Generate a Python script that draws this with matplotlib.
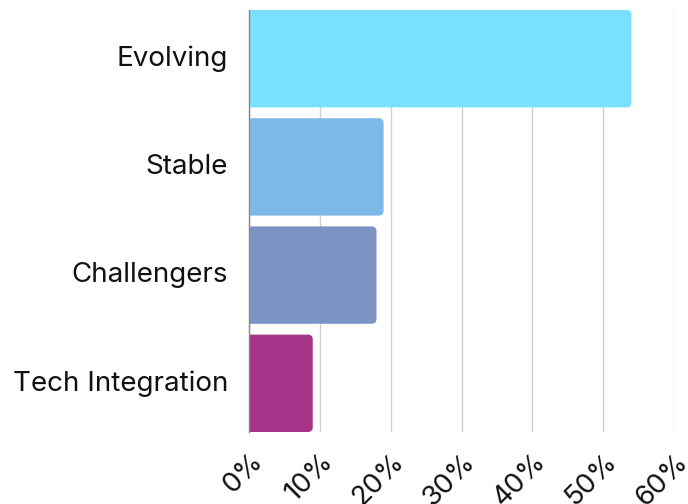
import matplotlib
matplotlib.use("Agg")
import matplotlib.pyplot as plt
from matplotlib.patches import FancyBboxPatch
from matplotlib.ticker import FuncFormatter
from matplotlib.transforms import ScaledTranslation

# segment shares (%)
segments = ["Evolving", "Stable", "Challengers", "Tech Integration"]
shares = [54, 19, 18, 9]
colors = ["#7AE0FF", "#7DB9E8", "#7B94C4", "#A63488"]

plt.rcParams['font.family'] = ['Inter', 'DejaVu Sans']

W, H = 688, 504
fig = plt.figure(figsize=(W / 100, H / 100), dpi=100)
ax = fig.add_axes([249 / W, 1 - 432 / H, (674 - 249) / W, (432 - 10) / H])

bar_h = 0.9
ax.set_xlim(0, 60)
ax.set_ylim(len(segments) - 1 + bar_h / 2, -bar_h / 2)

# rounded right corners: radius in pixels turned into data units
ax_w = (674 - 249)
ax_h = (432 - 10)
ux = 60 / ax_w                       # x units per px
uy = (len(segments) - 1 + bar_h) / ax_h  # y units per px
r_px = 5
for i, (v, c) in enumerate(zip(shares, colors)):
    r = r_px * ux
    p = FancyBboxPatch((-2 * r, i - bar_h / 2), v + 2 * r, bar_h,
                       boxstyle="round,pad=0,rounding_size=%f" % r,
                       mutation_aspect=uy / ux,
                       facecolor=c, edgecolor="none", zorder=3)
    ax.add_patch(p)

ax.set_yticks(range(len(segments)))
ax.set_yticklabels(segments, fontsize=20, color="#111111")
ax.tick_params(axis="y", length=0, pad=15)
up = ScaledTranslation(0, 3 / 100, fig.dpi_scale_trans)
for lab in ax.get_yticklabels():
    lab.set_transform(lab.get_transform() + up)

ax.set_xticks(range(0, 61, 10))
ax.xaxis.set_major_formatter(FuncFormatter(lambda x, _: "%d%%" % x))
ax.tick_params(axis="x", length=0, pad=12, labelsize=20, labelcolor="#111111")
shift = ScaledTranslation(19 / 100, 0, fig.dpi_scale_trans)
for lab in ax.get_xticklabels():
    lab.set_rotation(45)
    lab.set_ha("right")
    lab.set_transform(lab.get_transform() + shift)

ax.grid(axis="x", color="#d0d0d0", linewidth=1, zorder=0)
ax.set_axisbelow(True)
for s in ["top", "right", "bottom"]:
    ax.spines[s].set_visible(False)
ax.spines["left"].set_color("#888888")
ax.spines["left"].set_linewidth(1)
ax.spines["left"].set_zorder(4)

fig.savefig("out.png", dpi=100)
